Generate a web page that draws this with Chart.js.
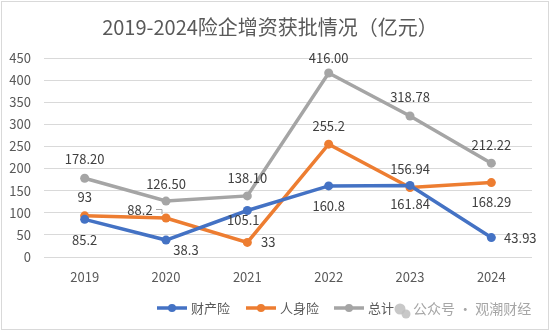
<!DOCTYPE html>
<html>
<head>
<meta charset="utf-8">
<script src="https://cdn.jsdelivr.net/npm/chart.js@4"></script>
<style>
  html, body { margin: 0; padding: 0; background: #fff; }
  #wrap { width: 550px; height: 331px; }
</style>
</head>
<body>
<div id="wrap"><canvas id="chart" width="550" height="331"></canvas></div>
<script>
// Data
const years = ["2019", "2020", "2021", "2022", "2023", "2024"];
const propertyIns = [85.2, 38.3, 105.1, 160.8, 161.84, 43.93];
const lifeIns = [93, 88.2, 33, 255.2, 156.94, 168.29];
const totalIns = [178.20, 126.50, 138.10, 416.00, 318.78, 212.22];
const yTicks = [0, 50, 100, 150, 200, 250, 300, 350, 400, 450];

const FONT = '"Noto Sans CJK SC", "Noto Sans", sans-serif';
const TEXT = "#595959";

// Background + frame
const framePlugin = {
  id: "frame",
  beforeDraw(chart) {
    const c = chart.ctx;
    c.save();
    c.fillStyle = "#fff";
    c.fillRect(0, 0, chart.width, chart.height);
    c.strokeStyle = "#D9D9D9";
    c.lineWidth = 1;
    c.strokeRect(1.5, 1.5, chart.width - 3, chart.height - 3);
    c.restore();
  },
  afterDraw(chart) {
    const c = chart.ctx;
    c.save();
    // title
    c.fillStyle = TEXT;
    c.font = "20px " + FONT;
    c.textAlign = "center";
    c.textBaseline = "middle";
    c.fillText("2019-2024险企增资获批情况（亿元）", 270, 27);

    // legend
    const items = [
      { x: 157, ds: 0 },
      { x: 246, ds: 1 },
      { x: 334, ds: 2 }
    ];
    c.font = "13px " + FONT;
    c.textAlign = "left";
    items.forEach(it => {
      const ds = chart.data.datasets[it.ds];
      c.strokeStyle = ds.borderColor;
      c.lineWidth = 3.5;
      c.beginPath();
      c.moveTo(it.x, 308);
      c.lineTo(it.x + 30, 308);
      c.stroke();
      c.fillStyle = ds.borderColor;
      c.beginPath();
      c.arc(it.x + 15, 308, 4, 0, Math.PI * 2);
      c.fill();
      c.fillStyle = TEXT;
      c.fillText(ds.label, it.x + 34, 308);
    });

    // watermark
    c.fillStyle = "rgba(190,190,190,0.85)";
    c.beginPath();
    c.arc(400, 309, 5.5, 0, Math.PI * 2);
    c.fill();
    c.beginPath();
    c.arc(406, 314, 4.5, 0, Math.PI * 2);
    c.fill();
    c.fillStyle = "#A6A6A6";
    c.font = "14px " + FONT;
    c.fillText("公众号 · 观潮财经", 413, 309);
    c.restore();
  }
};

// Data labels
const labelPlugin = {
  id: "pointLabels",
  afterDatasetsDraw(chart) {
    const c = chart.ctx;
    c.save();
    c.font = "13px " + FONT;
    c.fillStyle = "#404040";
    c.textAlign = "center";
    c.textBaseline = "middle";
    chart.data.datasets.forEach((ds, di) => {
      const meta = chart.getDatasetMeta(di);
      meta.data.forEach((pt, i) => {
        const off = ds.labelOffsets[i];
        const txt = ds.fmt(ds.data[i]);
        c.fillText(txt, pt.x + off[0], pt.y + off[1]);
      });
    });
    // leader line for 88.2
    const p = chart.getDatasetMeta(1).data[1];
    c.strokeStyle = "#A6A6A6";
    c.lineWidth = 1;
    c.beginPath();
    c.moveTo(p.x - 10, p.y - 8.5);
    c.lineTo(p.x - 4, p.y - 8.5);
    c.lineTo(p.x - 4, p.y - 4);
    c.stroke();
    c.restore();
  }
};

new Chart(document.getElementById("chart"), {
  type: "line",
  data: {
    labels: years,
    datasets: [
      {
        label: "财产险",
        data: propertyIns,
        borderColor: "#4472C4",
        backgroundColor: "#4472C4",
        fmt: v => String(v),
        labelOffsets: [[0, 21], [20, 10], [-4, 10], [0, 20], [0, 19], [29, 0]]
      },
      {
        label: "人身险",
        data: lifeIns,
        borderColor: "#ED7D31",
        backgroundColor: "#ED7D31",
        fmt: v => String(v),
        labelOffsets: [[0, -19], [-26, -8], [21, 0], [0, -18], [0, -19], [0, 19]]
      },
      {
        label: "总计",
        data: totalIns,
        borderColor: "#A5A5A5",
        backgroundColor: "#A5A5A5",
        fmt: v => v.toFixed(2),
        labelOffsets: [[0, -19], [0, -17], [0, -18], [0, -15], [0, -19], [0, -18]]
      }
    ]
  },
  options: {
    responsive: false,
    animation: false,
    layout: { padding: { top: 58, right: 18, left: 0, bottom: 0 } },
    elements: {
      line: { borderWidth: 3.5, tension: 0 },
      point: { radius: 4.5, hoverRadius: 4.5, borderWidth: 0 }
    },
    plugins: {
      legend: { display: false },
      title: { display: false },
      tooltip: { enabled: false }
    },
    scales: {
      x: {
        offset: true,
        grid: { display: false, drawTicks: false },
        border: { display: false },
        ticks: { color: TEXT, font: { family: FONT, size: 13 }, padding: 12, maxRotation: 0 },
        afterFit(s) { s.height = 331 - 257; }
      },
      y: {
        min: 0,
        max: 450,
        afterBuildTicks(s) { s.ticks = yTicks.map(v => ({ value: v })); },
        grid: { color: "#D9D9D9", lineWidth: 1, drawTicks: false },
        border: { display: false },
        ticks: { color: TEXT, font: { family: FONT, size: 13 }, padding: 13 },
        afterFit(s) { s.width = 44; }
      }
    }
  },
  plugins: [framePlugin, labelPlugin]
});
</script>
</body>
</html>
